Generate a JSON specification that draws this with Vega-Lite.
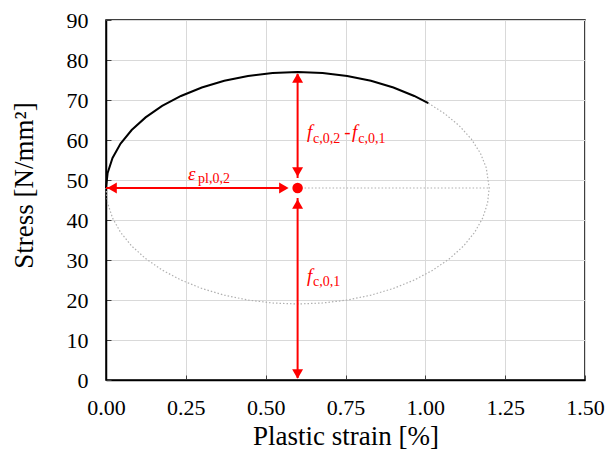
{
  "$schema": "https://vega.github.io/schema/vega-lite/v6.json",
  "width": 479,
  "height": 360,
  "autosize": {"type": "none"},
  "padding": {"left": 106, "top": 20, "right": 31, "bottom": 74},
  "background": "white",
  "config": {
    "view": {"stroke": "#000000", "strokeWidth": 1.5},
    "font": "Liberation Serif",
    "axis": {
      "labelFont": "Liberation Serif",
      "titleFont": "Liberation Serif",
      "labelColor": "#000000",
      "titleColor": "#000000",
      "labelFontSize": 22,
      "titleFontSize": 27,
      "titleFontWeight": "normal",
      "domainColor": "#000000",
      "domainWidth": 1.5,
      "tickColor": "#404040",
      "tickSize": -5,
      "tickWidth": 1,
      "gridColor": "#d9d9d9",
      "gridWidth": 1
    }
  },
  "datasets": {
    "loading": [
      {"i": 0, "strain": 0.0, "stress": 48.0},
      {"i": 1, "strain": 0.00514, "stress": 51.79},
      {"i": 2, "strain": 0.02044, "stress": 55.51},
      {"i": 3, "strain": 0.04567, "stress": 59.10},
      {"i": 4, "strain": 0.08038, "stress": 62.50},
      {"i": 5, "strain": 0.12399, "stress": 65.65},
      {"i": 6, "strain": 0.17574, "stress": 68.51},
      {"i": 7, "strain": 0.23474, "stress": 71.01},
      {"i": 8, "strain": 0.30, "stress": 73.11},
      {"i": 9, "strain": 0.37039, "stress": 74.79},
      {"i": 10, "strain": 0.44471, "stress": 76.01},
      {"i": 11, "strain": 0.52168, "stress": 76.75},
      {"i": 12, "strain": 0.60, "stress": 77.0},
      {"i": 13, "strain": 0.67832, "stress": 76.75},
      {"i": 14, "strain": 0.75529, "stress": 76.01},
      {"i": 15, "strain": 0.82961, "stress": 74.79},
      {"i": 16, "strain": 0.90, "stress": 73.11},
      {"i": 17, "strain": 0.96526, "stress": 71.01},
      {"i": 18, "strain": 1.0092, "stress": 69.21}
    ],
    "ellipse": [
      {"i": 0, "strain": 1.0092, "stress": 69.21},
      {"i": 1, "strain": 1.05963, "stress": 66.64},
      {"i": 2, "strain": 1.10603, "stress": 63.58},
      {"i": 3, "strain": 1.14378, "stress": 60.26},
      {"i": 4, "strain": 1.17223, "stress": 56.72},
      {"i": 5, "strain": 1.19088, "stress": 53.04},
      {"i": 6, "strain": 1.2, "stress": 48.0},
      {"i": 7, "strain": 1.19487, "stress": 44.21},
      {"i": 8, "strain": 1.17956, "stress": 40.49},
      {"i": 9, "strain": 1.15433, "stress": 36.90},
      {"i": 10, "strain": 1.11962, "stress": 33.50},
      {"i": 11, "strain": 1.07601, "stress": 30.35},
      {"i": 12, "strain": 1.02426, "stress": 27.49},
      {"i": 13, "strain": 0.96526, "stress": 24.99},
      {"i": 14, "strain": 0.90, "stress": 22.89},
      {"i": 15, "strain": 0.82961, "stress": 21.21},
      {"i": 16, "strain": 0.75529, "stress": 19.99},
      {"i": 17, "strain": 0.67832, "stress": 19.25},
      {"i": 18, "strain": 0.60, "stress": 19.0},
      {"i": 19, "strain": 0.52168, "stress": 19.25},
      {"i": 20, "strain": 0.44471, "stress": 19.99},
      {"i": 21, "strain": 0.37039, "stress": 21.21},
      {"i": 22, "strain": 0.30, "stress": 22.89},
      {"i": 23, "strain": 0.23474, "stress": 24.99},
      {"i": 24, "strain": 0.17574, "stress": 27.49},
      {"i": 25, "strain": 0.12399, "stress": 30.35},
      {"i": 26, "strain": 0.08038, "stress": 33.50},
      {"i": 27, "strain": 0.04567, "stress": 36.90},
      {"i": 28, "strain": 0.02044, "stress": 40.49},
      {"i": 29, "strain": 0.00514, "stress": 44.21},
      {"i": 30, "strain": 0.0, "stress": 48.0}
    ],
    "axisLine": [
      {"strain": 0.6, "stress": 48.0, "strain2": 1.2, "stress2": 48.0}
    ],
    "arrows": [
      {"strain": 0.0, "stress": 48.0, "strain2": 0.56, "stress2": 48.0},
      {"strain": 0.6, "stress": 0.5, "strain2": 0.6, "stress2": 45.5},
      {"strain": 0.6, "stress": 50.5, "strain2": 0.6, "stress2": 76.5}
    ],
    "heads": [
      {"strain": 0.019, "stress": 48.0, "dir": "left"},
      {"strain": 0.557, "stress": 48.0, "dir": "right"},
      {"strain": 0.6, "stress": 75.5, "dir": "up"},
      {"strain": 0.6, "stress": 52.0, "dir": "down"},
      {"strain": 0.6, "stress": 44.0, "dir": "up"},
      {"strain": 0.6, "stress": 1.5, "dir": "down"}
    ],
    "centre": [
      {"strain": 0.6, "stress": 48.0}
    ],
    "labels": [
      {"strain": 0.2568, "stress": 50.0, "text": "ε", "kind": "main"},
      {"strain": 0.2881, "stress": 49.2, "text": "pl,0,2", "kind": "sub"},
      {"strain": 0.6295, "stress": 60.5, "text": "f", "kind": "main"},
      {"strain": 0.6483, "stress": 59.2, "text": "c,0,2", "kind": "sub"},
      {"strain": 0.7460, "stress": 60.5, "text": "-", "kind": "plain"},
      {"strain": 0.7700, "stress": 60.5, "text": "f", "kind": "main"},
      {"strain": 0.7900, "stress": 59.2, "text": "c,0,1", "kind": "sub"},
      {"strain": 0.6295, "stress": 24.5, "text": "f", "kind": "main"},
      {"strain": 0.6483, "stress": 23.5, "text": "c,0,1", "kind": "sub"}
    ]
  },
  "encoding": {
    "x": {
      "field": "strain",
      "type": "quantitative",
      "scale": {"domain": [0, 1.5], "nice": false, "zero": true},
      "axis": {
        "title": "Plastic strain [%]",
        "values": [0, 0.25, 0.5, 0.75, 1.0, 1.25, 1.5],
        "format": ".2f",
        "labelPadding": 22,
        "titlePadding": 5,
        "labelFlush": false
      }
    },
    "y": {
      "field": "stress",
      "type": "quantitative",
      "scale": {"domain": [0, 90], "nice": false},
      "axis": {
        "title": "Stress [N/mm²]",
        "values": [0, 10, 20, 30, 40, 50, 60, 70, 80, 90],
        "labelPadding": 23,
        "titlePadding": 28,
        "titleY": 165,
        "labelFlush": false
      }
    }
  },
  "layer": [
    {
      "data": {"name": "ellipse"},
      "mark": {"type": "line", "color": "#b0b0b0", "strokeWidth": 1.2, "strokeDash": [1.5, 2], "interpolate": "linear"},
      "encoding": {"order": {"field": "i", "type": "quantitative"}}
    },
    {
      "data": {"name": "axisLine"},
      "mark": {"type": "rule", "color": "#b0b0b0", "strokeWidth": 1.2, "strokeDash": [1.5, 2]},
      "encoding": {
        "x2": {"field": "strain2"},
        "y2": {"field": "stress2"}
      }
    },
    {
      "data": {"name": "loading"},
      "mark": {"type": "line", "color": "#000000", "strokeWidth": 2, "interpolate": "linear"},
      "encoding": {"order": {"field": "i", "type": "quantitative"}}
    },
    {
      "data": {"name": "arrows"},
      "mark": {"type": "rule", "color": "#ff0000", "strokeWidth": 2},
      "encoding": {
        "x2": {"field": "strain2"},
        "y2": {"field": "stress2"}
      }
    },
    {
      "data": {"name": "heads"},
      "mark": {"type": "point", "filled": true, "color": "#ff0000", "opacity": 1, "size": 120},
      "encoding": {
        "shape": {
          "field": "dir",
          "type": "nominal",
          "scale": {
            "domain": ["left", "right", "up", "down"],
            "range": ["triangle-left", "triangle-right", "triangle-up", "triangle-down"]
          },
          "legend": null
        }
      }
    },
    {
      "data": {"name": "centre"},
      "mark": {"type": "circle", "color": "#ff0000", "opacity": 1, "size": 110}
    },
    {
      "data": {"name": "labels"},
      "transform": [{"filter": "datum.kind === 'main'"}],
      "mark": {"type": "text", "color": "#ff0000", "fontSize": 19, "fontStyle": "italic", "align": "left", "baseline": "alphabetic", "font": "Liberation Serif"},
      "encoding": {"text": {"field": "text"}}
    },
    {
      "data": {"name": "labels"},
      "transform": [{"filter": "datum.kind === 'sub'"}],
      "mark": {"type": "text", "color": "#ff0000", "fontSize": 14, "align": "left", "baseline": "alphabetic", "font": "Liberation Serif"},
      "encoding": {"text": {"field": "text"}}
    },
    {
      "data": {"name": "labels"},
      "transform": [{"filter": "datum.kind === 'plain'"}],
      "mark": {"type": "text", "color": "#ff0000", "fontSize": 19, "align": "left", "baseline": "alphabetic", "font": "Liberation Serif"},
      "encoding": {"text": {"field": "text"}}
    }
  ]
}
